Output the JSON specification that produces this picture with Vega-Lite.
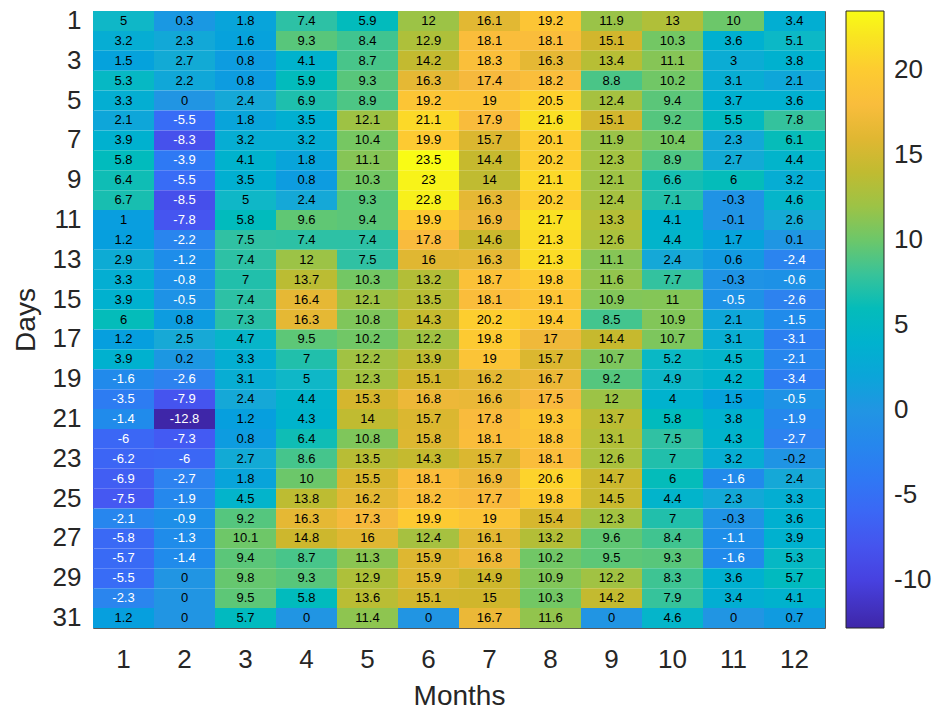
{
  "$schema": "https://vega.github.io/schema/vega-lite/v6.json",
  "width": 732,
  "height": 617,
  "autosize": {"type": "none"},
  "padding": {"left": 93, "top": 11, "right": 110, "bottom": 91},
  "background": "white",
  "config": {
    "locale": {"number": {"decimal": ".", "thousands": ",", "grouping": [3], "currency": ["$", ""], "minus": "-"}},
    "font": "Liberation Sans",
    "view": {"stroke": "#5a5a5a", "strokeWidth": 1}
  },
  "data": {"values": [
{"d":1,"m":1,"v":5},{"d":1,"m":2,"v":0.3},{"d":1,"m":3,"v":1.8},{"d":1,"m":4,"v":7.4},{"d":1,"m":5,"v":5.9},{"d":1,"m":6,"v":12},{"d":1,"m":7,"v":16.1},{"d":1,"m":8,"v":19.2},{"d":1,"m":9,"v":11.9},{"d":1,"m":10,"v":13},{"d":1,"m":11,"v":10},{"d":1,"m":12,"v":3.4},
{"d":2,"m":1,"v":3.2},{"d":2,"m":2,"v":2.3},{"d":2,"m":3,"v":1.6},{"d":2,"m":4,"v":9.3},{"d":2,"m":5,"v":8.4},{"d":2,"m":6,"v":12.9},{"d":2,"m":7,"v":18.1},{"d":2,"m":8,"v":18.1},{"d":2,"m":9,"v":15.1},{"d":2,"m":10,"v":10.3},{"d":2,"m":11,"v":3.6},{"d":2,"m":12,"v":5.1},
{"d":3,"m":1,"v":1.5},{"d":3,"m":2,"v":2.7},{"d":3,"m":3,"v":0.8},{"d":3,"m":4,"v":4.1},{"d":3,"m":5,"v":8.7},{"d":3,"m":6,"v":14.2},{"d":3,"m":7,"v":18.3},{"d":3,"m":8,"v":16.3},{"d":3,"m":9,"v":13.4},{"d":3,"m":10,"v":11.1},{"d":3,"m":11,"v":3},{"d":3,"m":12,"v":3.8},
{"d":4,"m":1,"v":5.3},{"d":4,"m":2,"v":2.2},{"d":4,"m":3,"v":0.8},{"d":4,"m":4,"v":5.9},{"d":4,"m":5,"v":9.3},{"d":4,"m":6,"v":16.3},{"d":4,"m":7,"v":17.4},{"d":4,"m":8,"v":18.2},{"d":4,"m":9,"v":8.8},{"d":4,"m":10,"v":10.2},{"d":4,"m":11,"v":3.1},{"d":4,"m":12,"v":2.1},
{"d":5,"m":1,"v":3.3},{"d":5,"m":2,"v":0},{"d":5,"m":3,"v":2.4},{"d":5,"m":4,"v":6.9},{"d":5,"m":5,"v":8.9},{"d":5,"m":6,"v":19.2},{"d":5,"m":7,"v":19},{"d":5,"m":8,"v":20.5},{"d":5,"m":9,"v":12.4},{"d":5,"m":10,"v":9.4},{"d":5,"m":11,"v":3.7},{"d":5,"m":12,"v":3.6},
{"d":6,"m":1,"v":2.1},{"d":6,"m":2,"v":-5.5},{"d":6,"m":3,"v":1.8},{"d":6,"m":4,"v":3.5},{"d":6,"m":5,"v":12.1},{"d":6,"m":6,"v":21.1},{"d":6,"m":7,"v":17.9},{"d":6,"m":8,"v":21.6},{"d":6,"m":9,"v":15.1},{"d":6,"m":10,"v":9.2},{"d":6,"m":11,"v":5.5},{"d":6,"m":12,"v":7.8},
{"d":7,"m":1,"v":3.9},{"d":7,"m":2,"v":-8.3},{"d":7,"m":3,"v":3.2},{"d":7,"m":4,"v":3.2},{"d":7,"m":5,"v":10.4},{"d":7,"m":6,"v":19.9},{"d":7,"m":7,"v":15.7},{"d":7,"m":8,"v":20.1},{"d":7,"m":9,"v":11.9},{"d":7,"m":10,"v":10.4},{"d":7,"m":11,"v":2.3},{"d":7,"m":12,"v":6.1},
{"d":8,"m":1,"v":5.8},{"d":8,"m":2,"v":-3.9},{"d":8,"m":3,"v":4.1},{"d":8,"m":4,"v":1.8},{"d":8,"m":5,"v":11.1},{"d":8,"m":6,"v":23.5},{"d":8,"m":7,"v":14.4},{"d":8,"m":8,"v":20.2},{"d":8,"m":9,"v":12.3},{"d":8,"m":10,"v":8.9},{"d":8,"m":11,"v":2.7},{"d":8,"m":12,"v":4.4},
{"d":9,"m":1,"v":6.4},{"d":9,"m":2,"v":-5.5},{"d":9,"m":3,"v":3.5},{"d":9,"m":4,"v":0.8},{"d":9,"m":5,"v":10.3},{"d":9,"m":6,"v":23},{"d":9,"m":7,"v":14},{"d":9,"m":8,"v":21.1},{"d":9,"m":9,"v":12.1},{"d":9,"m":10,"v":6.6},{"d":9,"m":11,"v":6},{"d":9,"m":12,"v":3.2},
{"d":10,"m":1,"v":6.7},{"d":10,"m":2,"v":-8.5},{"d":10,"m":3,"v":5},{"d":10,"m":4,"v":2.4},{"d":10,"m":5,"v":9.3},{"d":10,"m":6,"v":22.8},{"d":10,"m":7,"v":16.3},{"d":10,"m":8,"v":20.2},{"d":10,"m":9,"v":12.4},{"d":10,"m":10,"v":7.1},{"d":10,"m":11,"v":-0.3},{"d":10,"m":12,"v":4.6},
{"d":11,"m":1,"v":1},{"d":11,"m":2,"v":-7.8},{"d":11,"m":3,"v":5.8},{"d":11,"m":4,"v":9.6},{"d":11,"m":5,"v":9.4},{"d":11,"m":6,"v":19.9},{"d":11,"m":7,"v":16.9},{"d":11,"m":8,"v":21.7},{"d":11,"m":9,"v":13.3},{"d":11,"m":10,"v":4.1},{"d":11,"m":11,"v":-0.1},{"d":11,"m":12,"v":2.6},
{"d":12,"m":1,"v":1.2},{"d":12,"m":2,"v":-2.2},{"d":12,"m":3,"v":7.5},{"d":12,"m":4,"v":7.4},{"d":12,"m":5,"v":7.4},{"d":12,"m":6,"v":17.8},{"d":12,"m":7,"v":14.6},{"d":12,"m":8,"v":21.3},{"d":12,"m":9,"v":12.6},{"d":12,"m":10,"v":4.4},{"d":12,"m":11,"v":1.7},{"d":12,"m":12,"v":0.1},
{"d":13,"m":1,"v":2.9},{"d":13,"m":2,"v":-1.2},{"d":13,"m":3,"v":7.4},{"d":13,"m":4,"v":12},{"d":13,"m":5,"v":7.5},{"d":13,"m":6,"v":16},{"d":13,"m":7,"v":16.3},{"d":13,"m":8,"v":21.3},{"d":13,"m":9,"v":11.1},{"d":13,"m":10,"v":2.4},{"d":13,"m":11,"v":0.6},{"d":13,"m":12,"v":-2.4},
{"d":14,"m":1,"v":3.3},{"d":14,"m":2,"v":-0.8},{"d":14,"m":3,"v":7},{"d":14,"m":4,"v":13.7},{"d":14,"m":5,"v":10.3},{"d":14,"m":6,"v":13.2},{"d":14,"m":7,"v":18.7},{"d":14,"m":8,"v":19.8},{"d":14,"m":9,"v":11.6},{"d":14,"m":10,"v":7.7},{"d":14,"m":11,"v":-0.3},{"d":14,"m":12,"v":-0.6},
{"d":15,"m":1,"v":3.9},{"d":15,"m":2,"v":-0.5},{"d":15,"m":3,"v":7.4},{"d":15,"m":4,"v":16.4},{"d":15,"m":5,"v":12.1},{"d":15,"m":6,"v":13.5},{"d":15,"m":7,"v":18.1},{"d":15,"m":8,"v":19.1},{"d":15,"m":9,"v":10.9},{"d":15,"m":10,"v":11},{"d":15,"m":11,"v":-0.5},{"d":15,"m":12,"v":-2.6},
{"d":16,"m":1,"v":6},{"d":16,"m":2,"v":0.8},{"d":16,"m":3,"v":7.3},{"d":16,"m":4,"v":16.3},{"d":16,"m":5,"v":10.8},{"d":16,"m":6,"v":14.3},{"d":16,"m":7,"v":20.2},{"d":16,"m":8,"v":19.4},{"d":16,"m":9,"v":8.5},{"d":16,"m":10,"v":10.9},{"d":16,"m":11,"v":2.1},{"d":16,"m":12,"v":-1.5},
{"d":17,"m":1,"v":1.2},{"d":17,"m":2,"v":2.5},{"d":17,"m":3,"v":4.7},{"d":17,"m":4,"v":9.5},{"d":17,"m":5,"v":10.2},{"d":17,"m":6,"v":12.2},{"d":17,"m":7,"v":19.8},{"d":17,"m":8,"v":17},{"d":17,"m":9,"v":14.4},{"d":17,"m":10,"v":10.7},{"d":17,"m":11,"v":3.1},{"d":17,"m":12,"v":-3.1},
{"d":18,"m":1,"v":3.9},{"d":18,"m":2,"v":0.2},{"d":18,"m":3,"v":3.3},{"d":18,"m":4,"v":7},{"d":18,"m":5,"v":12.2},{"d":18,"m":6,"v":13.9},{"d":18,"m":7,"v":19},{"d":18,"m":8,"v":15.7},{"d":18,"m":9,"v":10.7},{"d":18,"m":10,"v":5.2},{"d":18,"m":11,"v":4.5},{"d":18,"m":12,"v":-2.1},
{"d":19,"m":1,"v":-1.6},{"d":19,"m":2,"v":-2.6},{"d":19,"m":3,"v":3.1},{"d":19,"m":4,"v":5},{"d":19,"m":5,"v":12.3},{"d":19,"m":6,"v":15.1},{"d":19,"m":7,"v":16.2},{"d":19,"m":8,"v":16.7},{"d":19,"m":9,"v":9.2},{"d":19,"m":10,"v":4.9},{"d":19,"m":11,"v":4.2},{"d":19,"m":12,"v":-3.4},
{"d":20,"m":1,"v":-3.5},{"d":20,"m":2,"v":-7.9},{"d":20,"m":3,"v":2.4},{"d":20,"m":4,"v":4.4},{"d":20,"m":5,"v":15.3},{"d":20,"m":6,"v":16.8},{"d":20,"m":7,"v":16.6},{"d":20,"m":8,"v":17.5},{"d":20,"m":9,"v":12},{"d":20,"m":10,"v":4},{"d":20,"m":11,"v":1.5},{"d":20,"m":12,"v":-0.5},
{"d":21,"m":1,"v":-1.4},{"d":21,"m":2,"v":-12.8},{"d":21,"m":3,"v":1.2},{"d":21,"m":4,"v":4.3},{"d":21,"m":5,"v":14},{"d":21,"m":6,"v":15.7},{"d":21,"m":7,"v":17.8},{"d":21,"m":8,"v":19.3},{"d":21,"m":9,"v":13.7},{"d":21,"m":10,"v":5.8},{"d":21,"m":11,"v":3.8},{"d":21,"m":12,"v":-1.9},
{"d":22,"m":1,"v":-6},{"d":22,"m":2,"v":-7.3},{"d":22,"m":3,"v":0.8},{"d":22,"m":4,"v":6.4},{"d":22,"m":5,"v":10.8},{"d":22,"m":6,"v":15.8},{"d":22,"m":7,"v":18.1},{"d":22,"m":8,"v":18.8},{"d":22,"m":9,"v":13.1},{"d":22,"m":10,"v":7.5},{"d":22,"m":11,"v":4.3},{"d":22,"m":12,"v":-2.7},
{"d":23,"m":1,"v":-6.2},{"d":23,"m":2,"v":-6},{"d":23,"m":3,"v":2.7},{"d":23,"m":4,"v":8.6},{"d":23,"m":5,"v":13.5},{"d":23,"m":6,"v":14.3},{"d":23,"m":7,"v":15.7},{"d":23,"m":8,"v":18.1},{"d":23,"m":9,"v":12.6},{"d":23,"m":10,"v":7},{"d":23,"m":11,"v":3.2},{"d":23,"m":12,"v":-0.2},
{"d":24,"m":1,"v":-6.9},{"d":24,"m":2,"v":-2.7},{"d":24,"m":3,"v":1.8},{"d":24,"m":4,"v":10},{"d":24,"m":5,"v":15.5},{"d":24,"m":6,"v":18.1},{"d":24,"m":7,"v":16.9},{"d":24,"m":8,"v":20.6},{"d":24,"m":9,"v":14.7},{"d":24,"m":10,"v":6},{"d":24,"m":11,"v":-1.6},{"d":24,"m":12,"v":2.4},
{"d":25,"m":1,"v":-7.5},{"d":25,"m":2,"v":-1.9},{"d":25,"m":3,"v":4.5},{"d":25,"m":4,"v":13.8},{"d":25,"m":5,"v":16.2},{"d":25,"m":6,"v":18.2},{"d":25,"m":7,"v":17.7},{"d":25,"m":8,"v":19.8},{"d":25,"m":9,"v":14.5},{"d":25,"m":10,"v":4.4},{"d":25,"m":11,"v":2.3},{"d":25,"m":12,"v":3.3},
{"d":26,"m":1,"v":-2.1},{"d":26,"m":2,"v":-0.9},{"d":26,"m":3,"v":9.2},{"d":26,"m":4,"v":16.3},{"d":26,"m":5,"v":17.3},{"d":26,"m":6,"v":19.9},{"d":26,"m":7,"v":19},{"d":26,"m":8,"v":15.4},{"d":26,"m":9,"v":12.3},{"d":26,"m":10,"v":7},{"d":26,"m":11,"v":-0.3},{"d":26,"m":12,"v":3.6},
{"d":27,"m":1,"v":-5.8},{"d":27,"m":2,"v":-1.3},{"d":27,"m":3,"v":10.1},{"d":27,"m":4,"v":14.8},{"d":27,"m":5,"v":16},{"d":27,"m":6,"v":12.4},{"d":27,"m":7,"v":16.1},{"d":27,"m":8,"v":13.2},{"d":27,"m":9,"v":9.6},{"d":27,"m":10,"v":8.4},{"d":27,"m":11,"v":-1.1},{"d":27,"m":12,"v":3.9},
{"d":28,"m":1,"v":-5.7},{"d":28,"m":2,"v":-1.4},{"d":28,"m":3,"v":9.4},{"d":28,"m":4,"v":8.7},{"d":28,"m":5,"v":11.3},{"d":28,"m":6,"v":15.9},{"d":28,"m":7,"v":16.8},{"d":28,"m":8,"v":10.2},{"d":28,"m":9,"v":9.5},{"d":28,"m":10,"v":9.3},{"d":28,"m":11,"v":-1.6},{"d":28,"m":12,"v":5.3},
{"d":29,"m":1,"v":-5.5},{"d":29,"m":2,"v":0},{"d":29,"m":3,"v":9.8},{"d":29,"m":4,"v":9.3},{"d":29,"m":5,"v":12.9},{"d":29,"m":6,"v":15.9},{"d":29,"m":7,"v":14.9},{"d":29,"m":8,"v":10.9},{"d":29,"m":9,"v":12.2},{"d":29,"m":10,"v":8.3},{"d":29,"m":11,"v":3.6},{"d":29,"m":12,"v":5.7},
{"d":30,"m":1,"v":-2.3},{"d":30,"m":2,"v":0},{"d":30,"m":3,"v":9.5},{"d":30,"m":4,"v":5.8},{"d":30,"m":5,"v":13.6},{"d":30,"m":6,"v":15.1},{"d":30,"m":7,"v":15},{"d":30,"m":8,"v":10.3},{"d":30,"m":9,"v":14.2},{"d":30,"m":10,"v":7.9},{"d":30,"m":11,"v":3.4},{"d":30,"m":12,"v":4.1},
{"d":31,"m":1,"v":1.2},{"d":31,"m":2,"v":0},{"d":31,"m":3,"v":5.7},{"d":31,"m":4,"v":0},{"d":31,"m":5,"v":11.4},{"d":31,"m":6,"v":0},{"d":31,"m":7,"v":16.7},{"d":31,"m":8,"v":11.6},{"d":31,"m":9,"v":0},{"d":31,"m":10,"v":4.6},{"d":31,"m":11,"v":0},{"d":31,"m":12,"v":0.7}
  ]},
  "encoding": {
    "x": {"field": "m", "type": "ordinal", "title": "Months",
      "axis": {"ticks": false, "domain": false, "labelAngle": 0, "labelFontSize": 26, "labelColor": "#262626", "labelPadding": 18, "titleFontSize": 28, "titleFontWeight": "normal", "titleColor": "#262626", "titlePadding": 10}},
    "y": {"field": "d", "type": "ordinal", "title": "Days",
      "axis": {"ticks": false, "domain": false, "values": [1,3,5,7,9,11,13,15,17,19,21,23,25,27,29,31], "labelFontSize": 26, "labelColor": "#262626", "labelPadding": 12, "titleFontSize": 28, "titleFontWeight": "normal", "titleColor": "#262626", "titlePadding": 12}}
  },
  "layer": [
    {"mark": {"type": "rect"},
     "encoding": {"color": {"field": "v", "type": "quantitative",
        "scale": {"domain": [-12.8,-10,-7.5,-5,-2.5,0,2.5,5,7.5,10,12.5,15,17.5,20,22.5,23.5],
                  "range": ["#3e26a8","#4741e0","#4558f2","#3670f6","#2d83ef","#2195e3","#17a9d6","#0fb7c7","#30c1a3","#6cc76a","#a8c13e","#d0b62c","#f8b93e","#fdcb31","#f7ec1d","#f9fb15"]},
        "legend": {"type": "gradient", "orient": "none", "legendX": 753, "legendY": 0, "direction": "vertical", "title": null,
          "gradientLength": 617, "gradientThickness": 38, "gradientStrokeColor": "#262626", "gradientStrokeWidth": 1,
          "values": [-10,-5,0,5,10,15,20], "labelFontSize": 26, "labelColor": "#262626", "labelOffset": 10, "labelOverlap": false}}}},
    {"mark": {"type": "text", "fontSize": 13},
     "encoding": {"text": {"field": "v", "type": "quantitative"},
        "color": {"condition": {"test": "datum.v < -0.4", "value": "white"}, "value": "black"}}}
  ]
}
